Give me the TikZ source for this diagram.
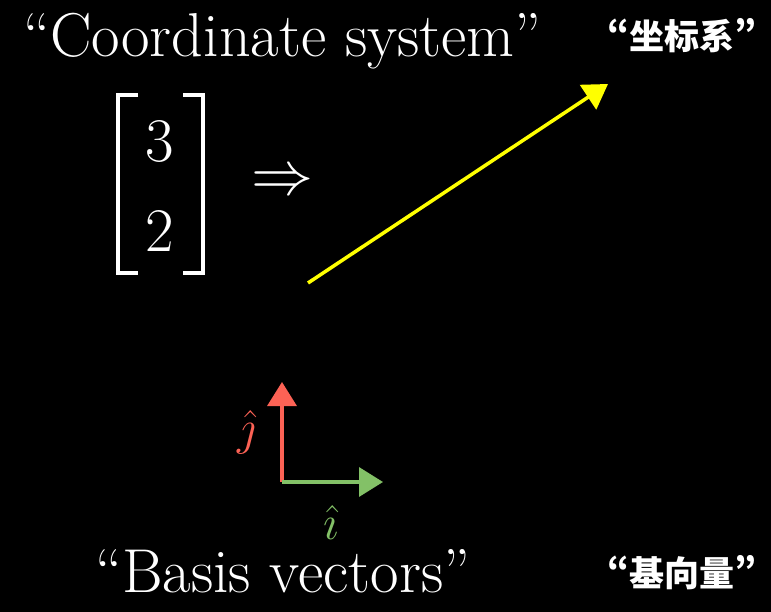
\RequirePackage{fix-cm}
\documentclass[tikz,border=0pt]{standalone}
\usepackage{amsmath,amssymb}
\usepackage{fontspec}
\newfontfamily\cjk{Noto Sans CJK SC}
\newfontfamily\cjkq{Noto Sans CJK SC}[CharacterWidth=Proportional]
\usepackage{tikz}
\usetikzlibrary{arrows.meta,positioning}
\usepackage{xcolor}
\definecolor{basisred}{HTML}{FC6255}
\definecolor{basisgreen}{HTML}{83C167}
\definecolor{vecyellow}{HTML}{FFFF00}
\newcommand{\cq}[1]{{\cjkq\bfseries “}#1{\cjkq\bfseries ”}}
\tikzset{
    bigtext/.style={white, inner sep=0pt, font=\fontsize{62}{70}\selectfont},
    cjktext/.style={white, inner sep=0pt, font=\fontsize{35}{40}\selectfont\cjk\bfseries},
    hatlabel/.style={inner sep=0pt, font=\fontsize{49}{55}\selectfont},
    vecarrow/.style={line width=3.5pt, -{Triangle[length=24pt,width=29pt]}},
    bracket/.style={white, line width=4.5pt}
}

\begin{document}
\begin{tikzpicture}[x=1pt,y=-1pt]
    \fill[black] (0,0) rectangle (771,612);
    \useasboundingbox (0,0) rectangle (771,612);

    % titles
    \node[bigtext, anchor=base west] (coordsys) at (23,57) {``Coordinate system''};
    \node[cjktext, anchor=base west] (zuobiao) at (607,50) {\cq{坐标系}};
    \node[bigtext, anchor=base west] (basisvec) at (95,592) {``Basis vectors''};
    \node[cjktext, anchor=base west] (jixiang) at (607,586) {\cq{基向量}};

    % column vector
    \node[bigtext] (three) at (160,142) {$3$};
    \node[bigtext] (two) at (160,232) {$2$};
    \draw[bracket] (138,95) -- (118,95) -- (118,273) -- (138,273);
    \draw[bracket] (183,95) -- (203,95) -- (203,273) -- (183,273);
    \node[bigtext] (implies) at (282,183) {$\Rightarrow$};

    % the vector
    \coordinate (tail) at (308,283);
    \coordinate (head) at (608,84);
    \draw[vecarrow, vecyellow] (tail) -- (head);

    % basis vectors
    \coordinate (origin) at (282,482);
    \coordinate (jtip) at (282,382);
    \coordinate (itip) at (383,482);
    \draw[vecarrow, basisred] (origin) -- (jtip);
    \draw[vecarrow, basisgreen] (origin) -- (itip);
    \node[hatlabel, basisred] (jhat) at (247,432) {$\hat{\jmath}$};
    \node[hatlabel, basisgreen] (ihat) at (331,522) {$\hat{\imath}$};
\end{tikzpicture}
\end{document}
